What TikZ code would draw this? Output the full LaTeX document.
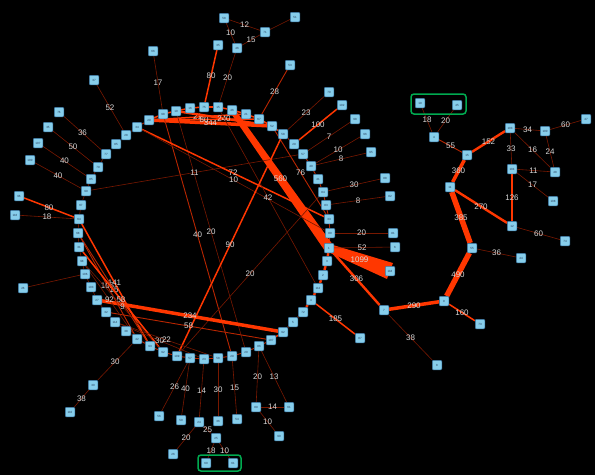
\documentclass[tikz,border=0pt]{standalone}
\usepackage{fontspec}
\newfontfamily\labfont{Liberation Sans}
\usetikzlibrary{calc,fit}
\pgfdeclarelayer{bgzero}
\pgfdeclarelayer{edges}
\pgfsetlayers{bgzero,edges,main}
\definecolor{nodefill}{RGB}{135,206,235}
\definecolor{nodeedge}{RGB}{60,120,165}
\definecolor{nodetext}{RGB}{35,55,85}
\definecolor{labgray}{RGB}{215,215,215}
\definecolor{ecA}{RGB}{120,24,0}
\definecolor{ecB}{RGB}{185,38,0}
\definecolor{ecC}{RGB}{255,55,0}
\definecolor{grpgreen}{RGB}{0,170,80}
\tikzset{
 nd/.style={rectangle, rounded corners=1pt, minimum size=9.5pt, inner sep=0pt, fill=nodefill, draw=nodeedge, line width=0.5pt, font=\fontsize{3}{3}\selectfont\labfont, text=nodetext},
 lab/.style={font=\fontsize{8}{9}\selectfont\labfont, text=labgray, inner sep=0pt},
 w1/.style={draw=ecA, line width=0.6pt},
 w2/.style={draw=ecB, line width=0.9pt},
 w3/.style={draw=ecC, line width=1.5pt},
 w4/.style={draw=ecC, line width=2.4pt},
 w5/.style={draw=ecC, line width=3.5pt},
 w6/.style={draw=ecC, line width=5.5pt},
 grp/.style={draw=grpgreen, line width=1.5pt, rounded corners=3pt, inner sep=4pt},
}
\begin{document}
\begin{tikzpicture}[x=1pt,y=-1pt]
\begin{pgfonlayer}{bgzero}
\fill[black] (0,0) rectangle (595,475);
\end{pgfonlayer}
\useasboundingbox (0,0) rectangle (595,475);
% ring
\node[nd] (r1) at (149,120) {20};
\node[nd] (r2) at (163,114) {98};
\node[nd] (r3) at (176,111) {10};
\node[nd] (r4) at (190,108) {16};
\node[nd] (r5) at (204,107) {75};
\node[nd] (r6) at (218,107) {15};
\node[nd] (r7) at (232,110) {46};
\node[nd] (r8) at (246,114) {21};
\node[nd] (r9) at (259,119) {67};
\node[nd] (r10) at (272,126) {52};
\node[nd] (r11) at (283,134) {58};
\node[nd] (r12) at (294,144) {29};
\node[nd] (r13) at (303,154) {57};
\node[nd] (r14) at (311,166) {40};
\node[nd] (r15) at (318,179) {41};
\node[nd] (r16) at (323,192) {84};
\node[nd] (r17) at (326,205) {83};
\node[nd] (r18) at (329,219) {33};
\node[nd] (r19) at (330,233) {80};
\node[nd] (r20) at (329,248) {1};
\node[nd] (r21) at (327,261) {3};
\node[nd] (r22) at (323,275) {2};
\node[nd] (r23) at (318,288) {112};
\node[nd] (r24) at (311,300) {4};
\node[nd] (r25) at (303,312) {72};
\node[nd] (r26) at (293,322) {5};
\node[nd] (r27) at (283,332) {92};
\node[nd] (r28) at (271,340) {107};
\node[nd] (r29) at (259,346) {86};
\node[nd] (r30) at (246,352) {20};
\node[nd] (r31) at (232,356) {29};
\node[nd] (r32) at (218,358) {58};
\node[nd] (r33) at (204,359) {23};
\node[nd] (r34) at (190,358) {57};
\node[nd] (r35) at (177,356) {109};
\node[nd] (r36) at (163,352) {92};
\node[nd] (r37) at (150,346) {93};
\node[nd] (r38) at (137,339) {42};
\node[nd] (r39) at (126,331) {38};
\node[nd] (r40) at (115,322) {114};
\node[nd] (r41) at (106,312) {32};
\node[nd] (r42) at (97,300) {27};
\node[nd] (r43) at (91,287) {103};
\node[nd] (r44) at (85,274) {106};
\node[nd] (r45) at (82,261) {98};
\node[nd] (r46) at (79,247) {31};
\node[nd] (r47) at (78,233) {68};
\node[nd] (r48) at (79,219) {64};
\node[nd] (r49) at (81,205) {67};
\node[nd] (r50) at (86,191) {99};
\node[nd] (r51) at (91,179) {85};
\node[nd] (r52) at (98,167) {79};
\node[nd] (r53) at (106,154) {77};
\node[nd] (r54) at (116,144) {85};
\node[nd] (r55) at (126,135) {28};
\node[nd] (r56) at (137,127) {34};
% left outer
\node[nd] (o66) at (153,51) {66};
\node[nd] (o37) at (94,80) {37};
\node[nd] (o76) at (59,112) {76};
\node[nd] (o35) at (48,127) {35};
\node[nd] (o107) at (38,143) {107};
\node[nd] (o100) at (30,160) {100};
\node[nd] (o96) at (19,196) {96};
\node[nd] (o116) at (15,215) {116};
\node[nd] (o26) at (23,288) {26};
\node[nd] (o30) at (93,385) {30};
\node[nd] (o110) at (70,412) {110};
% top / right outer
\node[nd] (t58) at (224,18) {58};
\node[nd] (t51) at (295,17) {51};
\node[nd] (t71) at (265,32) {71};
\node[nd] (t35) at (218,45) {35};
\node[nd] (t46) at (237,48) {46};
\node[nd] (t53) at (290,65) {53};
\node[nd] (t70) at (329,92) {70};
\node[nd] (t102) at (342,105) {102};
\node[nd] (t98) at (355,119) {98};
\node[nd] (t96) at (365,134) {96};
\node[nd] (t95) at (371,152) {95};
\node[nd] (t88) at (385,178) {88};
\node[nd] (t82) at (390,196) {82};
\node[nd] (t81) at (393,233) {81};
\node[nd] (t6) at (395,247) {6};
\node[nd] (t118) at (390,271) {118};
\node[nd] (t7) at (384,310) {7};
\node[nd] (t87) at (360,338) {87};
% right cluster
\node[nd] (n9) at (444,301) {9};
\node[nd] (n73) at (480,324) {73};
\node[nd] (n8) at (437,365) {8};
\node[nd] (n55) at (472,248) {55};
\node[nd] (n44) at (521,258) {44};
\node[nd] (n11) at (450,187) {11};
\node[nd] (n15) at (467,155) {15};
\node[nd] (n4) at (434,137) {4};
\node[nd] (g19) at (420,103) {19};
\node[nd] (g45) at (457,105) {45};
\node[nd] (n103) at (510,128) {103};
\node[nd] (n100) at (545,131) {100};
\node[nd] (n47) at (586,119) {47};
\node[nd] (n104) at (512,169) {104};
\node[nd] (n48) at (555,172) {48};
\node[nd] (n108) at (553,201) {108};
\node[nd] (n12) at (512,226) {12};
\node[nd] (n74) at (565,241) {74};
% bottom outer
\node[nd] (b56) at (159,416) {56};
\node[nd] (b50) at (181,420) {50};
\node[nd] (b24) at (199,422) {24};
\node[nd] (b36) at (218,421) {36};
\node[nd] (b54) at (237,419) {54};
\node[nd] (b89) at (256,407) {89};
\node[nd] (b61) at (289,407) {61};
\node[nd] (b90) at (279,436) {90};
\node[nd] (b25) at (216,438) {25};
\node[nd] (b26) at (173,454) {26};
\node[nd] (g60) at (206,463) {60};
\node[nd] (g61) at (233,463) {61};
% groups
\node[grp, fit=(g19)(g45)] (grpA) {};
\node[grp, fit=(g60)(g61), inner sep=3pt] (grpB) {};

\begin{pgfonlayer}{edges}
% ring connectors
\foreach \a/\b/\s in {r1/r2/w3,r2/r3/w3,r3/r4/w3,r4/r5/w3,r5/r6/w3,r6/r7/w3,r7/r8/w3,r8/r9/w3,r9/r10/w3,r10/r11/w3,
  r11/r12/w2,r12/r13/w2,r13/r14/w2,r14/r15/w2,r15/r16/w2,r16/r17/w2,r17/r18/w2,r18/r19/w2,r19/r20/w2,
  r20/r21/w4,r21/r22/w4,r22/r23/w4,r23/r24/w4,r24/r25/w4,r25/r26/w4,r26/r27/w4,r27/r28/w3,
  r28/r29/w2,r29/r30/w2,r30/r31/w2,r31/r32/w2,r32/r33/w2,r33/r34/w2,r34/r35/w2,r35/r36/w2,r36/r37/w2,r37/r38/w2,
  r38/r39/w1,r39/r40/w1,r40/r41/w1,r41/r42/w1,r42/r43/w1,r43/r44/w1,r44/r45/w1,r45/r46/w1,r46/r47/w1,r47/r48/w1,
  r48/r49/w1,r49/r50/w1,r50/r51/w1,r51/r52/w1,r52/r53/w1,r53/r54/w1,r54/r55/w1,r55/r56/w1,r56/r1/w2}
  \draw[\s] (\a) -- (\b);
% tapered heavy connectors
\fill[ecC] ($(r20)!4pt!90:(t118)$) -- ($(t118)!8.5pt!-90:(r20)$) -- ($(t118)!8.5pt!90:(r20)$) -- ($(r20)!4pt!-90:(t118)$) -- cycle;
\path (r20) -- node[lab]{1099} (t118);
\fill[ecC] ($(r7)!2.8pt!90:(r20)$) -- ($(r20)!5pt!-90:(r7)$) -- ($(r20)!5pt!90:(r7)$) -- ($(r7)!2.8pt!-90:(r20)$) -- cycle;
\path (r7) -- node[lab]{560} (r20);
% labelled connectors
\foreach \a/\b/\s/\l in {
  t58/t71/w1/12, t71/t51/w1/{}, t58/t46/w1/10, t71/t46/w1/15, t35/r5/w3/80, t46/r6/w1/20,
  t53/r9/w2/28, t70/r11/w1/23, t102/r12/w3/100, t98/r13/w1/7, t96/r14/w1/10, t95/r14/w1/8,
  t88/r16/w1/30, t82/r17/w1/8, t81/r19/w1/20, t6/r20/w1/52, t7/r20/w4/306, t87/r24/w3/185,
  t7/n9/w5/290, t7/n8/w1/38, n9/n73/w3/160, n9/n55/w6/490, n55/n44/w1/36, n55/n11/w6/385,
  n11/n15/w5/360, n11/n12/w4/270, n15/n4/w2/55, n4/g19/w1/18, n4/g45/w1/20, n15/n103/w4/152,
  n103/n100/w1/34, n100/n47/w1/60, n103/n104/w1/33, n103/n48/w1/16, n100/n48/w1/24,
  n104/n48/w1/11, n104/n108/w1/17, n104/n12/w3/126, n12/n74/w1/60,
  o66/r2/w1/17, o37/r55/w1/52, o76/r53/w1/36, o35/r52/w1/50, o107/r51/w1/40, o100/r50/w1/40,
  o96/r48/w3/80, o116/r48/w1/18, o26/r44/w1/{}, o30/r38/w1/30, o110/o30/w1/38,
  b56/r34/w1/26, b50/r34/w1/40, b24/r33/w1/14, b36/r32/w1/30, b54/r31/w1/15, b89/r29/w1/20,
  b61/r29/w1/13, b89/b61/w1/14, b89/b90/w1/10, b24/b26/w1/20, b24/b25/w1/25, b25/g60/w1/18, b25/g61/w1/10,
  r1/r10/w5/344, r1/r8/w3/21, r1/r9/w3/80, r3/r10/w4/240, r2/r31/w2/40, r3/r30/w1/20,
  r50/r13/w1/11, r56/r18/w3/72, r56/r19/w1/10, r10/r18/w2/76, r6/r23/w1/42, r35/r11/w3/90,
  r35/r16/w1/20, r42/r27/w5/234, r41/r28/w2/58, r48/r37/w3/141, r47/r38/w2/105, r47/r37/w2/15,
  r45/r38/w1/92, r46/r36/w3/58, r45/r36/w1/9, r40/r33/w1/30, r40/r32/w1/22}
  \draw[\s] (\a) -- node[lab]{\l} (\b);
\end{pgfonlayer}
\end{tikzpicture}
\end{document}
